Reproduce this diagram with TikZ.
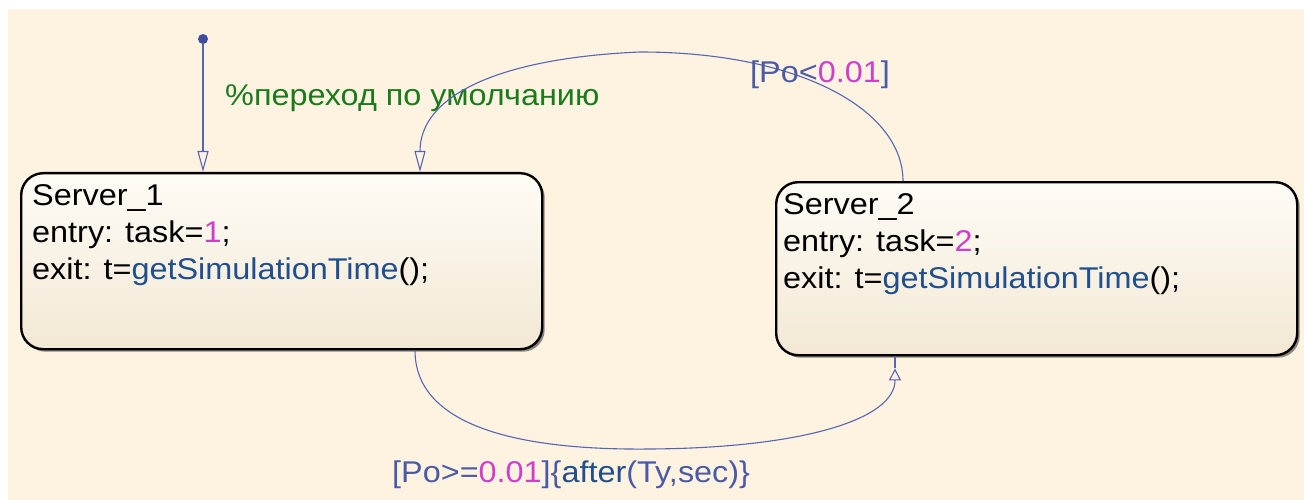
\documentclass[tikz,border=0pt]{standalone}
\usepackage{fontspec}
\setmainfont{Liberation Sans}[FakeStretch=1.08]
\usetikzlibrary{arrows.meta,shadows,calc}

\definecolor{canvas}{HTML}{FEF3E1}
\definecolor{boxtop}{HTML}{FFFCF6}
\definecolor{boxbot}{HTML}{F2E8D4}
\definecolor{transc}{HTML}{5565B2}
\definecolor{dotc}{HTML}{3F4C9C}
\definecolor{guardc}{HTML}{4B5AA6}
\definecolor{numc}{HTML}{D03ECE}
\definecolor{funcc}{HTML}{1F4F8C}
\definecolor{commentc}{HTML}{1B7A1B}

\tikzset{
  chartfont/.style={font=\fontsize{30}{37}\selectfont},
  statebox/.style={draw=black, line width=2.4pt, rounded corners=22pt,
    top color=boxtop, bottom color=boxbot, inner sep=0pt, anchor=north west,
    drop shadow={shadow xshift=2.5pt, shadow yshift=-2.5pt, opacity=0.45, fill=black}},
  line/.style={chartfont, anchor=base west, inner sep=0pt, text=black},
  trans/.style={draw=transc, line width=1.1pt},
  opentip/.style={-{Triangle[open, length=21pt, width=11pt, line width=1.1pt]}},
  shorttip/.style={-{Triangle[open, length=12pt, width=12pt, line width=1.1pt]}},
}

\begin{document}
\begin{tikzpicture}[x=1pt, y=-1pt]
  \useasboundingbox (0,0) rectangle (1304,500);
  \fill[canvas] (8,9) rectangle (1304,500);

  % states
  \node[statebox, minimum width=521pt, minimum height=176pt] (s1) at (20,172) {};
  \node[statebox, minimum width=521pt, minimum height=173pt] (s2) at (775,181) {};

  % state labels and actions
  \node[line] (s1name)  at (32,205) {Server\_1};
  \node[line] (s1entry) at (32,242) {entry: task=\textcolor{numc}{1};};
  \node[line] (s1exit)  at (32,279) {exit: t=\textcolor{funcc}{getSimulationTime}();};

  \node[line] (s2name)  at (783,214) {Server\_2};
  \node[line] (s2entry) at (783,251) {entry: task=\textcolor{numc}{2};};
  \node[line] (s2exit)  at (783,288) {exit: t=\textcolor{funcc}{getSimulationTime}();};

  % default transition
  \node[circle, fill=dotc, inner sep=0pt, minimum size=10pt] (init) at (203,39) {};
  \draw[trans, opentip] (init) -- (init |- s1.north);
  \node[line, text=commentc] (comment) at (225,106) {\%переход по умолчанию};

  % Server_2 -> Server_1
  \coordinate (from2) at ($(s2.north west)+(128,0)$);
  \coordinate (to1)   at ($(s1.north west)+(400,0)$);
  \draw[trans, opentip] (from2) .. controls (903,110) and (800,52) .. (640,52)
    .. controls (500,58) and (420,95) .. (to1);
  \node[line, text=guardc] (guard1) at (750,83) {[Po<\textcolor{numc}{0.01}]};

  % Server_1 -> Server_2
  \coordinate (from1) at ($(s1.south west)+(395,0)$);
  \coordinate (to2)   at ($(s2.south west)+(120,0)$);
  \coordinate (tip2)  at ($(to2)+(0,12)$);
  \draw[trans, shorttip] (from1) .. controls (415,440) and (560,450) .. (650,449)
    .. controls (800,448) and (895,420) .. (tip2);
  \draw[trans] (tip2) -- (to2);
  \node[line, text=guardc] (guard2) at (392,482)
    {[Po>=\textcolor{numc}{0.01}]\{\textcolor{funcc}{after}(Ty,sec)\}};
\end{tikzpicture}
\end{document}
